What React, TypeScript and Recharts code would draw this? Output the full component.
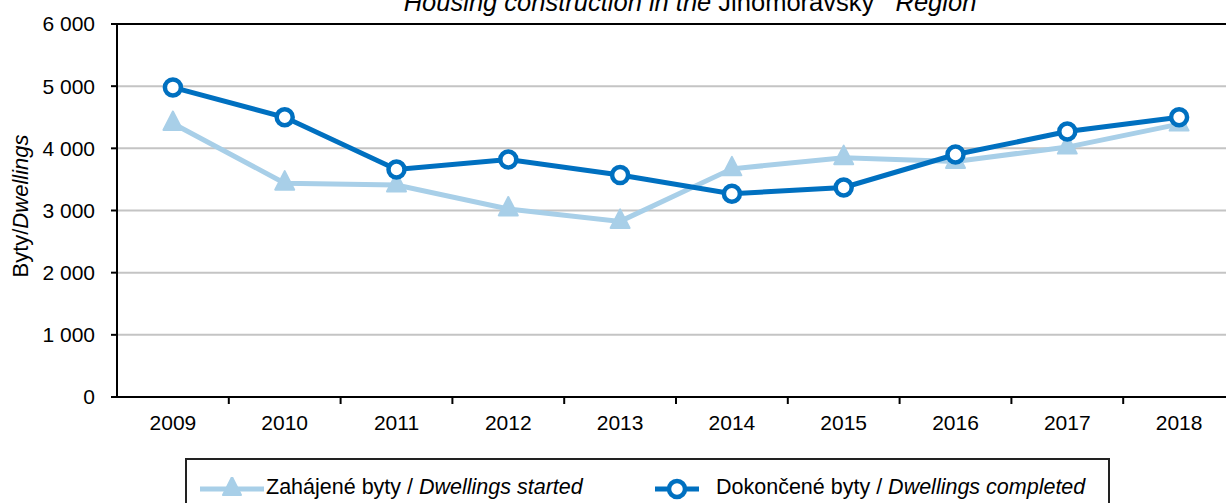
import { LineChart, Line, XAxis, YAxis, CartesianGrid, ReferenceLine } from 'recharts'

const years = ['2009', '2010', '2011', '2012', '2013', '2014', '2015', '2016', '2017', '2018']
const started = [4400, 3440, 3410, 3025, 2825, 3670, 3850, 3790, 4020, 4390]
const completed = [4980, 4500, 3660, 3820, 3570, 3270, 3370, 3900, 4270, 4500]
const yTicks = [0, 1000, 2000, 3000, 4000, 5000, 6000]

const data = years.map((year, i) => ({ year, started: started[i], completed: completed[i] }))

const FONT = '"Liberation Sans", Arial, Helvetica, sans-serif'
const LIGHT = '#a8cfe8'
const DARK = '#0070c0'

const fmt = (v: number) => String(v).replace(/\B(?=(\d{3})+(?!\d))/g, ' ')

const TriangleDot = (props: any) => {
    const { cx, cy, index } = props
    if (cx == null || cy == null) return null
    return (
        <polygon
            key={`t-${index}`}
            points={`${cx},${cy - 12} ${cx - 9.5},${cy + 6.5} ${cx + 9.5},${cy + 6.5}`}
            fill={LIGHT}
            stroke={LIGHT}
            strokeWidth={2}
            strokeLinejoin="round"
        />
    )
}

// year label plus the small tick mark sitting on the left edge of each band
const YearTick = (props: any) => {
    const { x, y, payload, index } = props
    const half = payload && payload.offset ? payload.offset : 0
    const axisY = y - 16
    return (
        <g>
            {index > 0 && half > 0 && (
                <line x1={x - half} x2={x - half} y1={axisY} y2={axisY + 7} stroke="#000" strokeWidth={2} />
            )}
            <text x={x} y={y} dy={17} textAnchor="middle" fontSize={21} fontFamily={FONT} fill="#000">
                {payload.value}
            </text>
        </g>
    )
}

const YLabel = () => (
    <text
        x={28}
        y={206}
        transform="rotate(-90 28 206)"
        textAnchor="middle"
        fontSize={22}
        fontFamily={FONT}
        fill="#000"
    >
        <tspan>Byty/</tspan>
        <tspan fontStyle="italic">Dwellings</tspan>
    </text>
)

export default function App() {
    return (
        <div
            style={{
                position: 'fixed',
                left: 0,
                top: 0,
                width: 1226,
                height: 503,
                overflow: 'hidden',
                background: '#fff',
                fontFamily: FONT,
            }}
        >
            <div
                style={{
                    position: 'absolute',
                    left: 690,
                    top: -10,
                    transform: 'translateX(-50%)',
                    whiteSpace: 'nowrap',
                    fontSize: 25.5,
                    lineHeight: '25px',
                    color: '#000',
                }}
            >
                <i>Housing construction in the</i> Jihomoravský&nbsp;&nbsp; <i>Region</i>
            </div>

            <LineChart
                width={1250}
                height={503}
                data={data}
                margin={{ top: 24, right: 15, bottom: 66, left: 0 }}
                style={{ position: 'absolute', left: 0, top: 0 }}
            >
                <CartesianGrid vertical={false} stroke="#c4c4c4" strokeWidth={2} />
                <XAxis
                    dataKey="year"
                    scale="band"
                    height={40}
                    axisLine={{ stroke: '#000', strokeWidth: 2 }}
                    tickLine={false}
                    tickMargin={10}
                    tick={YearTick}
                    interval={0}
                />
                <YAxis
                    width={117}
                    domain={[0, 6000]}
                    ticks={yTicks}
                    tickFormatter={fmt}
                    axisLine={{ stroke: '#000', strokeWidth: 2 }}
                    tickLine={{ stroke: '#000', strokeWidth: 2 }}
                    tickSize={6}
                    tickMargin={16}
                    tick={{ fill: '#000', fontSize: 21, fontFamily: FONT }}
                    label={{ content: YLabel }}
                />
                <ReferenceLine y={6000} stroke="#000" strokeWidth={2} />
                <Line
                    dataKey="started"
                    stroke={LIGHT}
                    strokeWidth={5}
                    dot={TriangleDot}
                    isAnimationActive={false}
                />
                <Line
                    dataKey="completed"
                    stroke={DARK}
                    strokeWidth={5}
                    dot={{ r: 8, fill: '#fff', stroke: DARK, strokeWidth: 4.5 }}
                    isAnimationActive={false}
                />
            </LineChart>

            <div
                style={{
                    position: 'absolute',
                    left: 185,
                    top: 458,
                    width: 925,
                    height: 70,
                    border: '2px solid #222',
                    boxSizing: 'border-box',
                    fontSize: 21.5,
                    color: '#000',
                }}
            >
                <svg width={70} height={24} style={{ position: 'absolute', left: 11, top: 17 }}>
                    <line x1={2} y1={12} x2={66} y2={12} stroke={LIGHT} strokeWidth={5} />
                    <polygon points="34,0 25,18 43,18" fill={LIGHT} stroke={LIGHT} strokeWidth={2} strokeLinejoin="round" />
                </svg>
                <span style={{ position: 'absolute', left: 79, top: 15, whiteSpace: 'nowrap' }}>
                    Zahájené byty / <i>Dwellings started</i>
                </span>
                <svg width={50} height={24} style={{ position: 'absolute', left: 466, top: 17 }}>
                    <line x1={2} y1={12} x2={46} y2={12} stroke={DARK} strokeWidth={5} />
                    <circle cx={24} cy={12} r={8} fill="#fff" stroke={DARK} strokeWidth={4.5} />
                </svg>
                <span style={{ position: 'absolute', left: 529, top: 15, whiteSpace: 'nowrap' }}>
                    Dokončené byty / <i>Dwellings completed</i>
                </span>
            </div>
        </div>
    )
}
